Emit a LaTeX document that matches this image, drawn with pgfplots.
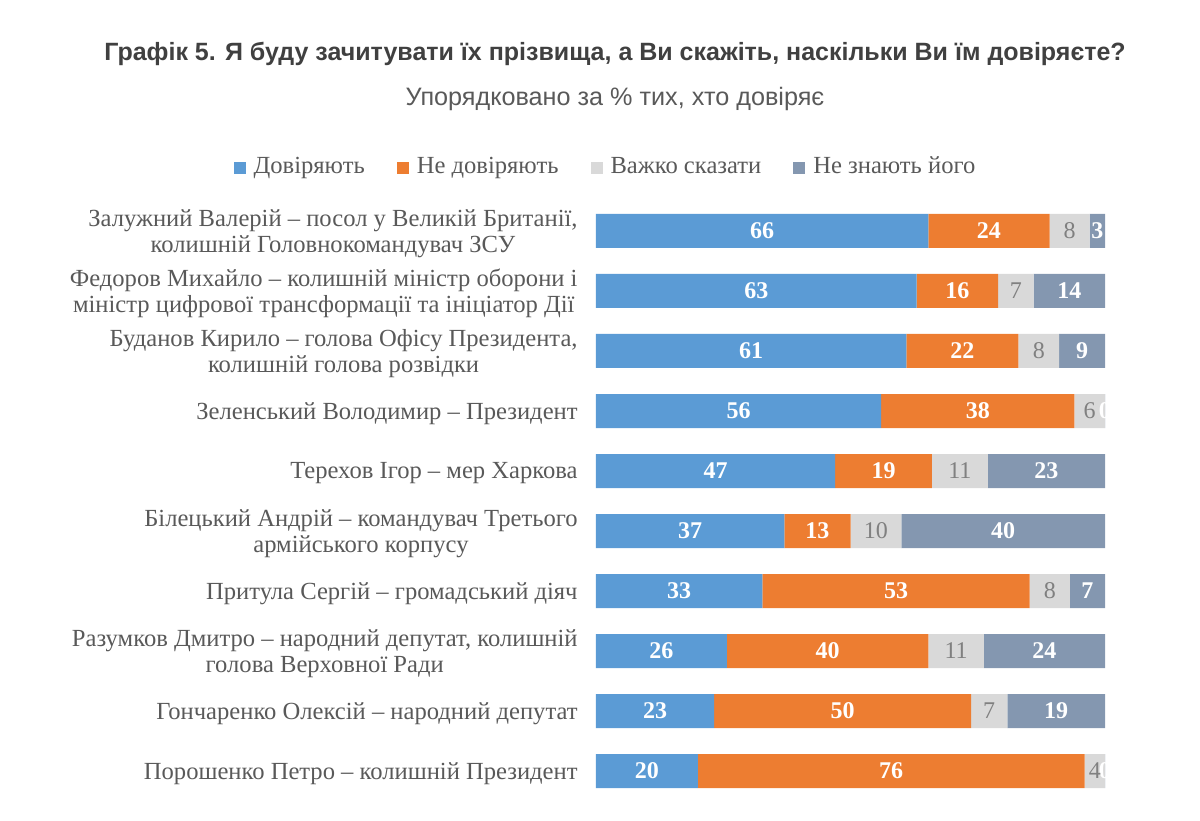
\documentclass[border=0pt]{standalone}
\usepackage{fontspec}
\setmainfont{Liberation Serif}
\newfontfamily\sans{Liberation Sans}
\usepackage{pgfplots}
\usepackage{pgfplotstable}
\pgfplotsset{compat=1.18}
\definecolor{cA}{HTML}{5B9BD5}
\definecolor{cB}{HTML}{ED7D31}
\definecolor{cC}{HTML}{D9D9D9}
\definecolor{cD}{HTML}{8497B0}
\definecolor{txt}{HTML}{595959}
\definecolor{ttl}{HTML}{404040}
\pgfplotstableread{
y x lbl
0 65.3 66
1 63 63
2 61 61
3 56 56
4 47 47
5 37 37
6 32.7 33
7 25.7 26
8 23.2 23
9 20 20
}\tA
\pgfplotstableread{
y x lbl
0 23.8 24
1 16 16
2 22 22
3 38 38
4 19 19
5 13 13
6 52.5 53
7 39.6 40
8 50.5 50
9 76 76
}\tB
\pgfplotstableread{
y x lbl
0 7.9 8
1 7 7
2 8 8
3 5.99 6
4 11 11
5 10 10
6 7.9 8
7 10.9 11
8 7.1 7
9 3.99 4
}\tC
\pgfplotstableread{
y x lbl
0 3.0 3
1 14 14
2 9 9
3 0.01 0
4 23 23
5 40 40
6 6.9 7
7 23.8 24
8 19.2 19
9 0.01 0
}\tD
\begin{document}
\begin{tikzpicture}
\path[use as bounding box] (0,0) rectangle (600pt,410pt);
\node[font=\sans\bfseries\fontsize{12.5}{14}\selectfont, text=ttl] at (307.5pt,383pt) {Графік 5. Я буду зачитувати їх прізвища, а Ви скажіть, наскільки Ви їм довіряєте?};
\node[font=\sans\fontsize{12.6}{14}\selectfont, text=txt] at (307.5pt,360.5pt) {Упорядковано за \% тих, хто довіряє};
\begin{axis}[
  at={(298pt,9.5pt)}, anchor=south west,
  scale only axis, width=254.5pt, height=300pt,
  xbar stacked, bar width=17pt,
  xmin=0, xmax=100, ymin=-0.5, ymax=9.5,
  y dir=reverse,
  clip=true,
  axis line style={draw=none},
  xtick=\empty,
  ytick={0,...,9},
  major tick length=0pt,
  yticklabels={
    {Залужний Валерій – посол у Великій Британії,\\колишній Головнокомандувач ЗСУ},
    {Федоров Михайло – колишній міністр оборони і\\міністр цифрової трансформації та ініціатор Дії},
    {Буданов Кирило – голова Офісу Президента,\\колишній голова розвідки},
    {Зеленський Володимир – Президент},
    {Терехов Ігор – мер Харкова},
    {Білецький Андрій – командувач Третього\\армійського корпусу},
    {Притула Сергій – громадський діяч},
    {Разумков Дмитро – народний депутат, колишній\\голова Верховної Ради},
    {Гончаренко Олексій – народний депутат},
    {Порошенко Петро – колишній Президент}},
  yticklabel style={align=center, font=\fontsize{12.3}{13}\selectfont, text=txt, inner sep=0pt, xshift=-9pt, yshift=-1.2pt},
  point meta=explicit symbolic,
  nodes near coords={\pgfplotspointmeta},
  every node near coord/.append style={anchor=center, font=\fontsize{12}{13}\selectfont\bfseries, text=white},
  legend style={at={(0.0206,1.055)}, anchor=center, draw=none, fill=none,
    legend columns=4, font=\fontsize{12.3}{13}\selectfont, text=txt,
    nodes={text height=8.5pt, text depth=2.5pt},
    /tikz/every odd column/.append style={column sep=2pt},
    /tikz/every even column/.append style={column sep=14pt}},
  legend image code/.code={\fill[#1] (0pt,-3pt) rectangle (6pt,3pt);},
]
\addplot[fill=cA, draw=none] table[x=x, y=y, meta=lbl] {\tA};
\addplot[fill=cB, draw=none] table[x=x, y=y, meta=lbl] {\tB};
\addplot[fill=cC, draw=none, every node near coord/.append style={font=\fontsize{12}{13}\selectfont\mdseries, text=gray}] table[x=x, y=y, meta=lbl] {\tC};
\addplot[fill=cD, draw=none] table[x=x, y=y, meta=lbl] {\tD};
\legend{Довіряють, Не довіряють, Важко сказати, Не знають його}
\end{axis}
\end{tikzpicture}
\end{document}
